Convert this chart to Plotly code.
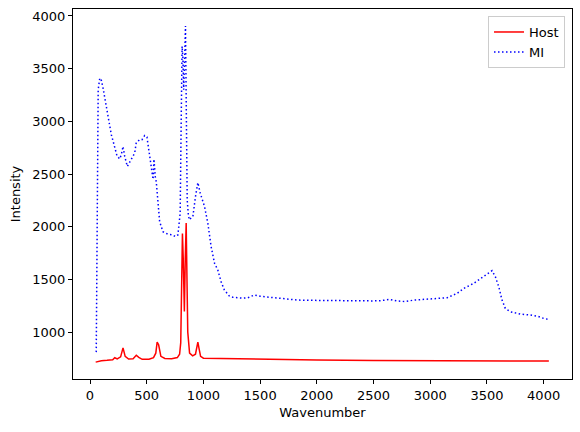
import plotly.graph_objects as go

# Host spectrum (red, solid)
host_x = [50, 100, 150, 200, 218, 240, 270, 291, 310, 340, 380, 408, 430, 460, 520, 560,
          580, 592, 605, 625, 660, 720, 770, 790, 800, 808, 815, 822, 832, 840, 848, 855,
          862, 878, 905, 930, 941, 951, 962, 975, 1000, 1100, 1200, 1500, 2000, 2500,
          3000, 3500, 4046]
host_y = [715, 728, 732, 738, 757, 745, 765, 850, 770, 745, 748, 780, 760, 742, 742, 758,
          800, 905, 880, 770, 750, 748, 758, 790, 900, 1700, 1935, 1700, 1195, 1700, 2035, 1500,
          1000, 800, 775, 790, 860, 905, 840, 770, 752, 750, 752, 745, 735, 730,
          730, 728, 725]

# MI spectrum (blue, dotted)
mi_x = [55, 58, 64, 72, 86, 100, 115, 130, 144, 168, 188, 212, 238, 262, 276, 291, 306,
        329, 364, 394, 408, 438, 458, 482, 502, 517, 531, 546, 556, 564, 570, 575, 584,
        593, 599, 614, 643, 687, 731, 751, 775, 795, 804, 812, 819, 826, 834, 842, 850,
        857, 868, 878, 895, 907, 930, 951, 972, 989, 1010, 1039, 1068, 1098, 1127, 1156,
        1185, 1229, 1260, 1303, 1350, 1391, 1449, 1500, 1537, 1600, 1684, 1750, 1830,
        1900, 2000, 2123, 2250, 2417, 2500, 2563, 2640, 2710, 2780, 2857, 2950, 3003,
        3100, 3150, 3238, 3296, 3384, 3472, 3545, 3574, 3604, 3633, 3662, 3706, 3794,
        3882, 3950, 4000, 4046]
mi_y = [810, 1500, 2600, 3300, 3410, 3390, 3316, 3220, 3126, 2984, 2873, 2778, 2673, 2643,
        2683, 2762, 2667, 2572, 2635, 2699, 2800, 2825, 2825, 2866, 2851, 2746, 2603, 2508,
        2450, 2641, 2500, 2477, 2429, 2324, 2191, 2048, 1953, 1929, 1922, 1906, 1922, 2128,
        3000, 3712, 3600, 3300, 3600, 3905, 3000, 2255, 2100, 2065, 2090, 2096, 2286, 2419,
        2318, 2255, 2191, 2033, 1811, 1653, 1589, 1478, 1399, 1342, 1330, 1326, 1322, 1326,
        1352, 1340, 1336, 1325, 1314, 1310, 1304, 1302, 1300, 1301, 1296, 1298, 1296, 1298,
        1310, 1295, 1290, 1304, 1310, 1317, 1320, 1326, 1368, 1415, 1463, 1526, 1583, 1526,
        1431, 1304, 1225, 1193, 1171, 1162, 1150, 1130, 1120]

x_ticks = [0, 500, 1000, 1500, 2000, 2500, 3000, 3500, 4000]
y_ticks = [1000, 1500, 2000, 2500, 3000, 3500, 4000]

font = "DejaVu Sans"

fig = go.Figure()
fig.add_trace(go.Scatter(x=host_x, y=host_y, mode="lines", name="Host",
                         line=dict(color="#ff0000", width=1.5)))
fig.add_trace(go.Scatter(x=mi_x, y=mi_y, mode="lines", name="MI",
                         line=dict(color="#0000ff", width=1.5, dash="1.5px,2.5px")))

axis_common = dict(showline=True, linecolor="black", linewidth=1, mirror=True,
                   ticks="outside", ticklen=4, tickcolor="black", tickwidth=1,
                   showgrid=False, zeroline=False,
                   tickfont=dict(family=font, size=13, color="black"))

fig.update_layout(
    width=580, height=432,
    margin=dict(l=73, r=8, t=9, b=53),
    paper_bgcolor="white", plot_bgcolor="white",
    font=dict(family=font, size=13, color="black"),
    showlegend=True,
    legend=dict(x=0.986, y=0.981, xanchor="right", yanchor="top",
                bgcolor="rgba(255,255,255,0.8)", bordercolor="#cccccc", borderwidth=1,
                font=dict(family=font, size=13, color="black")),
    xaxis=dict(range=[-150, 4250], tickvals=x_ticks,
               title=dict(text="Wavenumber", font=dict(family=font, size=13), standoff=6),
               **axis_common),
    yaxis=dict(range=[555, 4066], tickvals=y_ticks,
               title=dict(text="Intensity", font=dict(family=font, size=13), standoff=8),
               **axis_common),
)

fig.write_html("out.html")
